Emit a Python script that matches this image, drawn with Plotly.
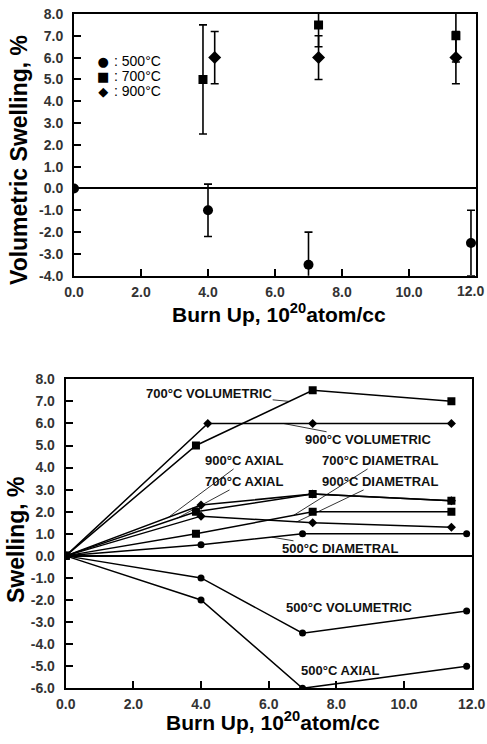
import plotly.graph_objects as go

# ---------------- data ----------------
# Top panel: volumetric swelling with error bars
top500_x = [0.0, 4.0, 7.0, 11.85]
top500_y = [0.0, -1.0, -3.5, -2.5]
top500_err = [0.0, 1.2, 1.5, 1.5]

top700_x = [3.85, 7.3, 11.4]
top700_y = [5.0, 7.5, 7.0]
top700_err = [2.5, 1.0, 1.2]

top900_x = [4.2, 7.3, 11.4]
top900_y = [6.0, 6.0, 6.0]
top900_err = [1.2, 1.0, 1.2]

# Bottom panel: swelling components
b500_x = [0.0, 4.0, 7.0, 11.85]
b500_vol = [0.0, -1.0, -3.5, -2.5]
b500_axial = [0.0, -2.0, -6.0, -5.0]
b500_diam = [0.0, 0.5, 1.0, 1.0]

b700_x = [0.0, 3.85, 7.3, 11.4]
b700_vol = [0.0, 5.0, 7.5, 7.0]
b700_axial = [0.0, 2.0, 2.8, 2.5]
b700_diam = [0.0, 1.0, 2.0, 2.0]

b900_vol_x = [0.0, 4.2, 7.3, 11.4]
b900_vol = [0.0, 6.0, 6.0, 6.0]
b900_x = [0.0, 4.0, 7.3, 11.4]
b900_axial = [0.0, 2.3, 2.8, 2.5]
b900_diam = [0.0, 1.8, 1.5, 1.3]

x_ticks = [0, 2, 4, 6, 8, 10, 12]
top_y_ticks = list(range(-4, 9))
bot_y_ticks = list(range(-6, 9))

legend_names = [": 500°C", ": 700°C", ": 900°C"]
legend_glyphs = ["●", "■", "◆"]

FONT = "Liberation Sans, Arial, sans-serif"
W, H = 487, 744

fig = go.Figure()

def errbar(vals):
    return dict(type="data", array=vals, visible=True, color="black",
                thickness=1.6, width=4)

fig.add_trace(go.Scatter(x=top500_x, y=top500_y, mode="markers", name=legend_names[0],
                         marker=dict(symbol="circle", size=10, color="black"),
                         error_y=errbar(top500_err), xaxis="x", yaxis="y"))
fig.add_trace(go.Scatter(x=top700_x, y=top700_y, mode="markers", name=legend_names[1],
                         marker=dict(symbol="square", size=9, color="black"),
                         error_y=errbar(top700_err), xaxis="x", yaxis="y"))
fig.add_trace(go.Scatter(x=top900_x, y=top900_y, mode="markers", name=legend_names[2],
                         marker=dict(symbol="diamond", size=10, color="black"),
                         error_y=errbar(top900_err), xaxis="x", yaxis="y"))

def line(x, y, sym, size):
    fig.add_trace(go.Scatter(x=x, y=y, mode="lines+markers", showlegend=False,
                             line=dict(color="black", width=1.5),
                             marker=dict(symbol=sym, size=size, color="black"),
                             xaxis="x2", yaxis="y2"))

line(b900_vol_x, b900_vol, "diamond", 7)
line(b900_x, b900_axial, "diamond", 7)
line(b900_x, b900_diam, "diamond", 7)
line(b700_x, b700_vol, "square", 8)
line(b700_x, b700_axial, "square", 8)
line(b700_x, b700_diam, "square", 8)
line(b500_x, b500_vol, "circle", 7)
line(b500_x, b500_axial, "circle", 7)
line(b500_x, b500_diam, "circle", 7)

tickfont = dict(family=FONT, size=14, color="#333", weight=700)
titlefont = dict(family=FONT, size=21, color="black", weight=700)
ytitlefont = dict(family=FONT, size=23, color="black", weight=700)

def xax(domain, anchor, hide_last=False):
    labels = [f"{v:.1f}" for v in x_ticks]
    if hide_last:
        labels[-1] = ""
    return dict(domain=domain, anchor=anchor, range=[0, 12], tickvals=x_ticks,
                ticktext=labels, ticks="inside", ticklen=7,
                tickwidth=2, tickcolor="black", showline=True, linewidth=2,
                linecolor="black", mirror=True, showgrid=False, zeroline=False,
                tickfont=tickfont, ticklabelstandoff=2, ticklabeloverflow="allow")

def yax(domain, anchor, rng, ticks):
    return dict(domain=domain, anchor=anchor, range=rng, tickvals=ticks,
                ticktext=[f"{v:.1f}" for v in ticks], ticks="inside", ticklen=7,
                tickwidth=2, tickcolor="black", showline=True, linewidth=2,
                linecolor="black", mirror=True, showgrid=False, zeroline=True,
                zerolinecolor="black", zerolinewidth=1.5,
                tickfont=tickfont, ticklabelstandoff=6, ticklabeloverflow="allow")

fig.update_layout(
    width=W, height=H, margin=dict(l=0, r=0, t=0, b=0, autoexpand=False),
    paper_bgcolor="white", plot_bgcolor="white",
    xaxis=xax([74 / W, 476 / W], "y", hide_last=True),
    yaxis=yax([1 - 275.7 / H, 1 - 14 / H], "x", [-4, 8], top_y_ticks),
    xaxis2=xax([65.7 / W, 471.7 / W], "y2"),
    yaxis2=yax([1 - 688.3 / H, 1 - 379.3 / H], "x2", [-6, 8], bot_y_ticks),
    showlegend=False,
)

def paper_text(text, px, py, font, angle=0, xanchor="center", align="center"):
    fig.add_annotation(text=text, x=px / W, y=1 - py / H, xref="paper", yref="paper",
                       showarrow=False, font=font, textangle=angle,
                       xanchor=xanchor, yanchor="middle", align=align)

# last top tick label, squeezed inside the page as in the original
paper_text(f"{x_ticks[-1]:.1f}", 470, 291, tickfont)

# axis titles
paper_text("Burn Up, 10<sup>20</sup>atom/cc", 278.5, 313, titlefont)
paper_text("Burn Up, 10<sup>20</sup>atom/cc", 272.5, 721, titlefont)
paper_text("Volumetric Swelling, %", 19, 160, ytitlefont, angle=-90)
paper_text("Swelling, %", 16, 540, ytitlefont, angle=-90)

# legend of the top panel (two multi-line texts, 15 px line pitch)
glyph_col = "<br>".join(
    f'<span style="font-family:DejaVu Sans;font-size:13px">{g}</span>' for g in legend_glyphs)
name_col = "<br>".join(f'<span style="font-size:14px">{n}</span>' for n in legend_names)
paper_text(glyph_col, 103, 76, dict(family=FONT, size=11.5, color="black"))
paper_text(name_col, 112, 76, dict(family=FONT, size=11.5, color="black"),
           xanchor="left", align="left")

labfont = dict(family=FONT, size=13, color="#111", weight=700)
labels = [
    # text, anchor x, anchor y, text x, text y, arrow
    ("700°C VOLUMETRIC", 6.6, 7.0, 4.24, 7.34, True),
    ("900°C VOLUMETRIC", 6.43, 6.0, 8.94, 5.26, True),
    ("900°C AXIAL", 3.04, 1.75, 5.28, 4.30, True),
    ("700°C AXIAL", 3.3, 1.71, 5.28, 3.35, True),
    ("700°C DIAMETRAL", 6.73, 1.83, 9.30, 4.30, True),
    ("900°C DIAMETRAL", 6.83, 1.54, 9.30, 3.35, True),
    ("500°C DIAMETRAL", 6.09, 0.85, 8.12, 0.32, True),
    ("500°C VOLUMETRIC", 8.36, -2.36, 8.36, -2.36, False),
    ("500°C AXIAL", 8.1, -5.2, 8.1, -5.2, False),
]
for text, x, y, tx, ty, arrow in labels:
    if arrow:
        fig.add_annotation(text=text, x=x, y=y, ax=tx, ay=ty, xref="x2", yref="y2",
                           axref="x2", ayref="y2", showarrow=True, arrowhead=0,
                           arrowwidth=0.8, arrowcolor="black", font=labfont,
                           xanchor="center", yanchor="middle", borderpad=0)
    else:
        fig.add_annotation(text=text, x=x, y=y, xref="x2", yref="y2", showarrow=False,
                           font=labfont)

fig.write_html("out.html")
